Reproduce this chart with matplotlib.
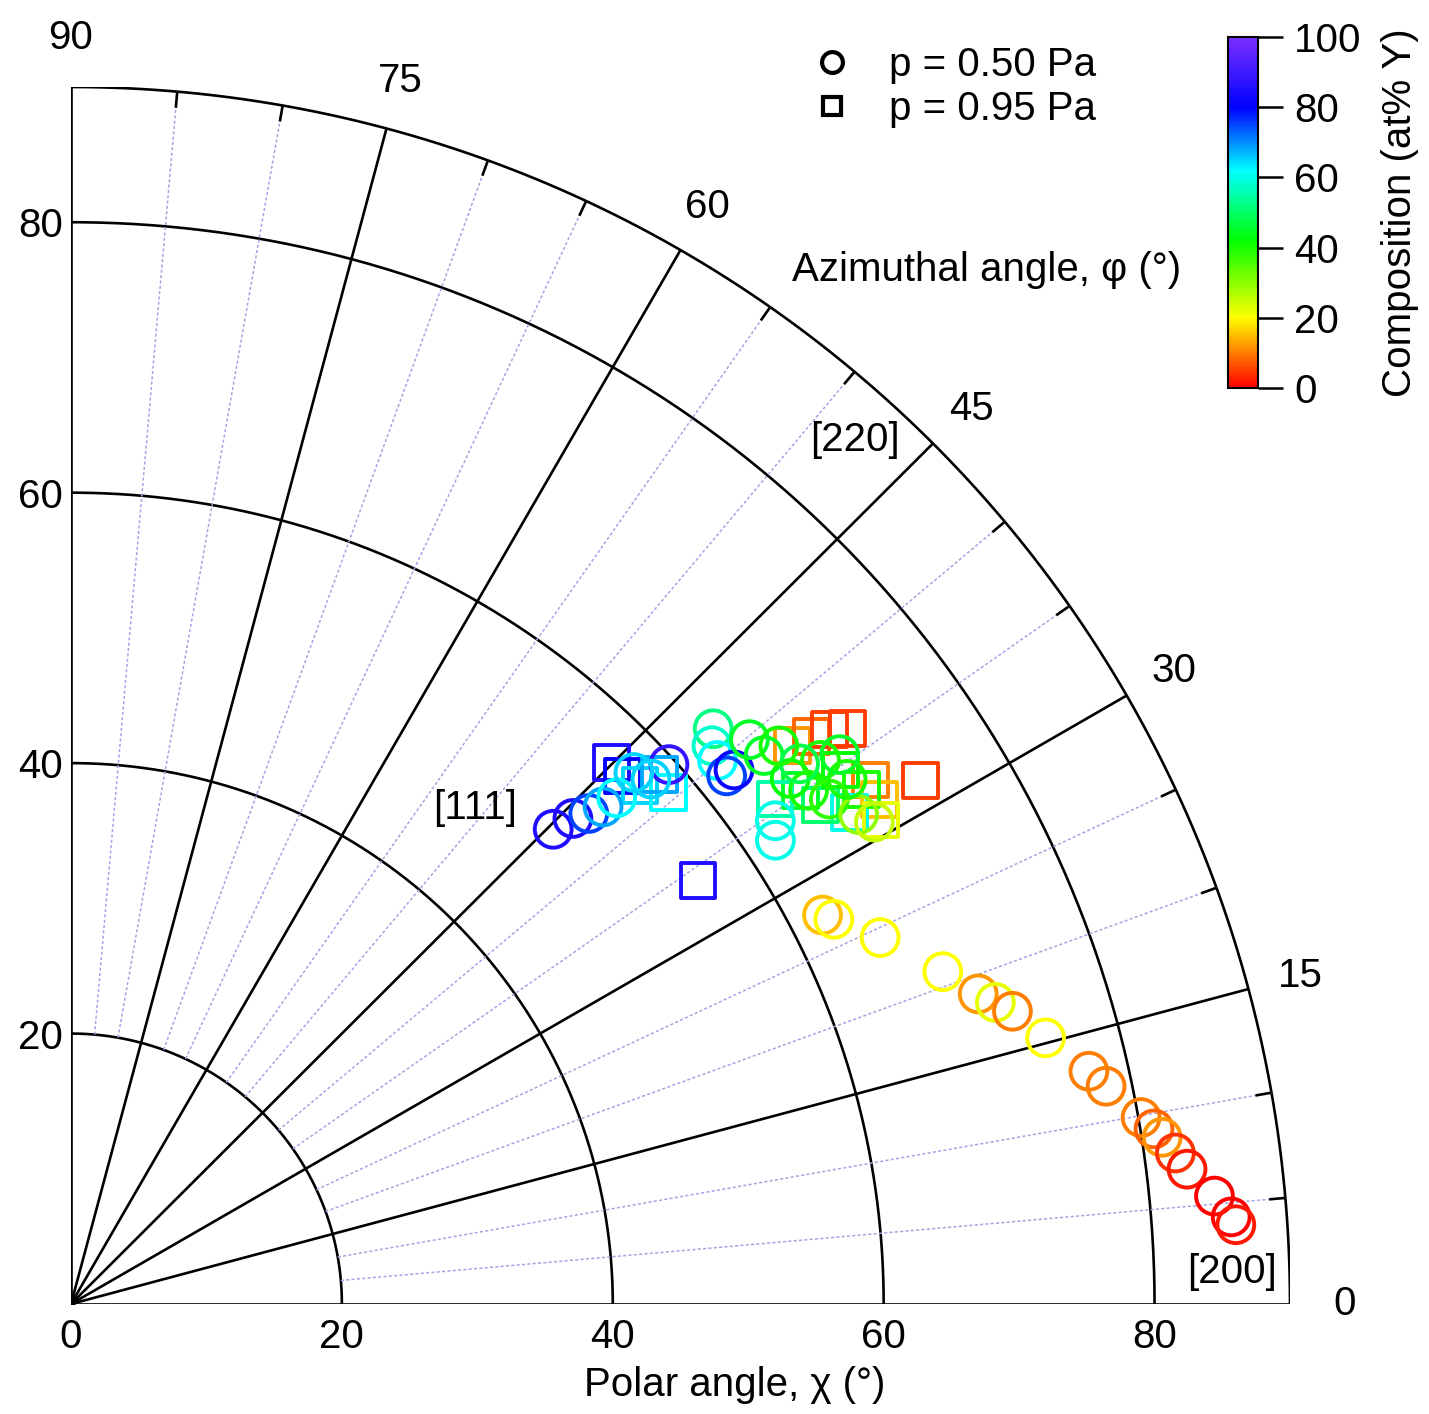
import numpy as np
import matplotlib
matplotlib.use("Agg")
import matplotlib.pyplot as plt
from matplotlib.colors import LinearSegmentedColormap, Normalize
from matplotlib.lines import Line2D

plt.rcParams['font.family'] = ['Liberation Sans', 'DejaVu Sans']

# ---- data: polar angle chi (deg), azimuthal angle phi (deg), composition (at% Y)
circ_chi = [62.5, 63.1, 65.6, 68.9, 70.8, 71.8, 72.8, 74.6, 77.1, 78.1, 80.2, 81.0, 81.5, 82.3, 83.0, 84.8, 85.9, 86.2,
            50.0, 51.6, 52.7, 53.8, 55.0, 59.5, 57.8, 57.2, 63.7, 62.8, 62.4, 62.2, 62.9, 65.2, 65.3, 63.1, 62.3,
            65.8, 66.4, 67.3, 68.4, 67.0, 68.5, 69.2, 69.2, 66.6, 69.8]
circ_phi = [27.4, 26.8, 24.4, 20.9, 18.9, 18.1, 17.3, 15.3, 12.9, 11.9, 9.9, 9.2, 8.7, 7.8, 6.9, 5.4, 4.3, 3.9,
            44.6, 44.1, 43.5, 43.1, 42.9, 42.1, 42.2, 43.4, 41.9, 41.1, 40.1, 38.9, 38.9, 39.8, 38.4, 34.5, 33.4,
            36.2, 34.9, 33.7, 36.0, 36.6, 31.9, 31.0, 34.1, 38.3, 35.6]
circ_comp = [15, 20, 20, 20, 12, 22, 10, 20, 10, 10, 10, 8, 12, 4, 2, 0, 0, 2,
             85, 85, 75, 68, 62, 88, 65, 65, 52, 58, 62, 75, 82, 45, 45, 60, 60,
             42, 40, 38, 40, 48, 30, 25, 40, 40, 45]

sq_chi = [56.5, 56.4, 56.9, 58.1, 58.5, 55.9, 67.4, 68.9, 70.3, 71.4, 70.6, 70.4, 73.7, 68.0, 69.7, 65.9, 66.5, 64.0, 69.7, 69.2]
sq_phi = [45.1, 43.8, 42.4, 40.6, 42.0, 34.1, 37.8, 37.5, 37.2, 36.6, 33.3, 32.0, 31.7, 32.3, 33.1, 35.2, 33.7, 35.7, 30.9, 34.8]
sq_comp = [85, 80, 65, 62, 68, 85, 12, 8, 5, 5, 10, 15, 5, 60, 40, 45, 50, 55, 22, 42]

circle_radii = [20, 40, 60, 80]
r_max = 90
azimuth_major = [0, 15, 30, 45, 60, 75, 90]
azimuth_minor = [5, 10, 20, 25, 35, 40, 50, 55, 65, 70, 80, 85]
x_ticks = [0, 20, 40, 60, 80]
y_ticks = [20, 40, 60, 80]
cbar_ticks = [0, 20, 40, 60, 80, 100]

cmap = LinearSegmentedColormap.from_list(
    "rb", [(0.0, "#ff0000"), (0.1, "#ff8000"), (0.2, "#ffff00"), (0.42, "#00ff00"),
           (0.62, "#00ffff"), (0.8, "#0000ff"), (1.0, "#7a30ff")])
norm = Normalize(0, 100)

W, H = 1429, 1414
fig = plt.figure(figsize=(W / 100, H / 100), dpi=100)
ax = fig.add_axes([71 / W, 110 / H, 1219 / W, 1217 / H])
ax.set_xlim(0, 90)
ax.set_ylim(0, 90)
for s in ax.spines.values():
    s.set_visible(False)

FS = 29
lk = dict(color='black', lw=1.9, solid_capstyle='butt')

# circles
t = np.linspace(0, np.pi / 2, 400)
for r in circle_radii + [r_max]:
    ax.plot(r * np.cos(t), r * np.sin(t), **lk)
# major radial lines
for a in azimuth_major:
    ar = np.deg2rad(a)
    ax.plot([0, r_max * np.cos(ar)], [0, r_max * np.sin(ar)], **lk)
# minor dotted lines and outer ticks
for a in azimuth_minor:
    ar = np.deg2rad(a)
    ax.plot([20 * np.cos(ar), r_max * np.cos(ar)], [20 * np.sin(ar), r_max * np.sin(ar)],
            color='#a4a4e4', lw=1.1, ls=(0, (2, 1.5)))
    ax.plot([(r_max - 1.2) * np.cos(ar), r_max * np.cos(ar)],
            [(r_max - 1.2) * np.sin(ar), r_max * np.sin(ar)], **lk)
ax.plot([0], [0], 'o', color='black', ms=5)

# azimuth labels
for a in azimuth_major:
    ar = np.deg2rad(a)
    ax.text(94.0 * np.cos(ar), 94.0 * np.sin(ar) - 0.35 * np.sin(ar), str(a), fontsize=FS,
            ha='center', va='center', clip_on=False)

ax.set_xticks(x_ticks)
ax.set_xticklabels([str(v) for v in x_ticks], fontsize=FS)
ax.set_yticks(y_ticks)
ax.set_yticklabels([str(v) for v in y_ticks], fontsize=FS)
ax.tick_params(axis='x', length=0, pad=10)
ax.tick_params(axis='y', length=0, pad=6)

ax.text(49.0, -6.0, "Polar angle, χ (°)", fontsize=FS, ha='center', va='center', clip_on=False)
ax.text(67.6, 76.5, "Azimuthal angle, φ (°)", fontsize=FS, ha='center', va='center', clip_on=False)

ax.text(29.8, 36.7, "[111]", fontsize=FS, ha='center', va='center')
ax.text(57.9, 63.9, "[220]", fontsize=FS, ha='center', va='center')
ax.text(85.7, 2.4, "[200]", fontsize=FS, ha='center', va='center')

# data
sq_x = np.array(sq_chi) * np.cos(np.deg2rad(sq_phi))
sq_y = np.array(sq_chi) * np.sin(np.deg2rad(sq_phi))
ci_x = np.array(circ_chi) * np.cos(np.deg2rad(circ_phi))
ci_y = np.array(circ_chi) * np.sin(np.deg2rad(circ_phi))
ax.scatter(sq_x, sq_y, s=25 ** 2, marker='s', facecolors='none',
           edgecolors=cmap(norm(np.array(sq_comp))), linewidths=2.8, zorder=5)
ax.scatter(ci_x, ci_y, s=26.5 ** 2, marker='o', facecolors='none',
           edgecolors=cmap(norm(np.array(circ_comp))), linewidths=2.8, zorder=6)

# legend
handles = [Line2D([], [], marker='o', ls='none', mfc='none', mec='black', mew=3, ms=15),
           Line2D([], [], marker='s', ls='none', mfc='none', mec='black', mew=3, ms=13)]
ax.legend(handles, ["p = 0.50 Pa", "p = 0.95 Pa"], loc='upper left',
          bbox_to_anchor=(812 / W, 1 - 46 / H), bbox_transform=fig.transFigure,
          frameon=False, fontsize=FS, handlelength=1.0, handletextpad=0.9,
          labelspacing=0.15, borderpad=0, borderaxespad=0)

# colorbar
cax = fig.add_axes([1228 / W, 1 - 388 / H, 30 / W, 351 / H])
sm = plt.cm.ScalarMappable(norm=norm, cmap=cmap)
cb = fig.colorbar(sm, cax=cax, ticks=cbar_ticks)
cb.ax.tick_params(labelsize=FS, length=18, width=1.8, pad=8)
cb.outline.set_linewidth(1.5)
cb.set_label("Composition (at% Y)", fontsize=FS, labelpad=14)

fig.savefig("out.png", dpi=100)
